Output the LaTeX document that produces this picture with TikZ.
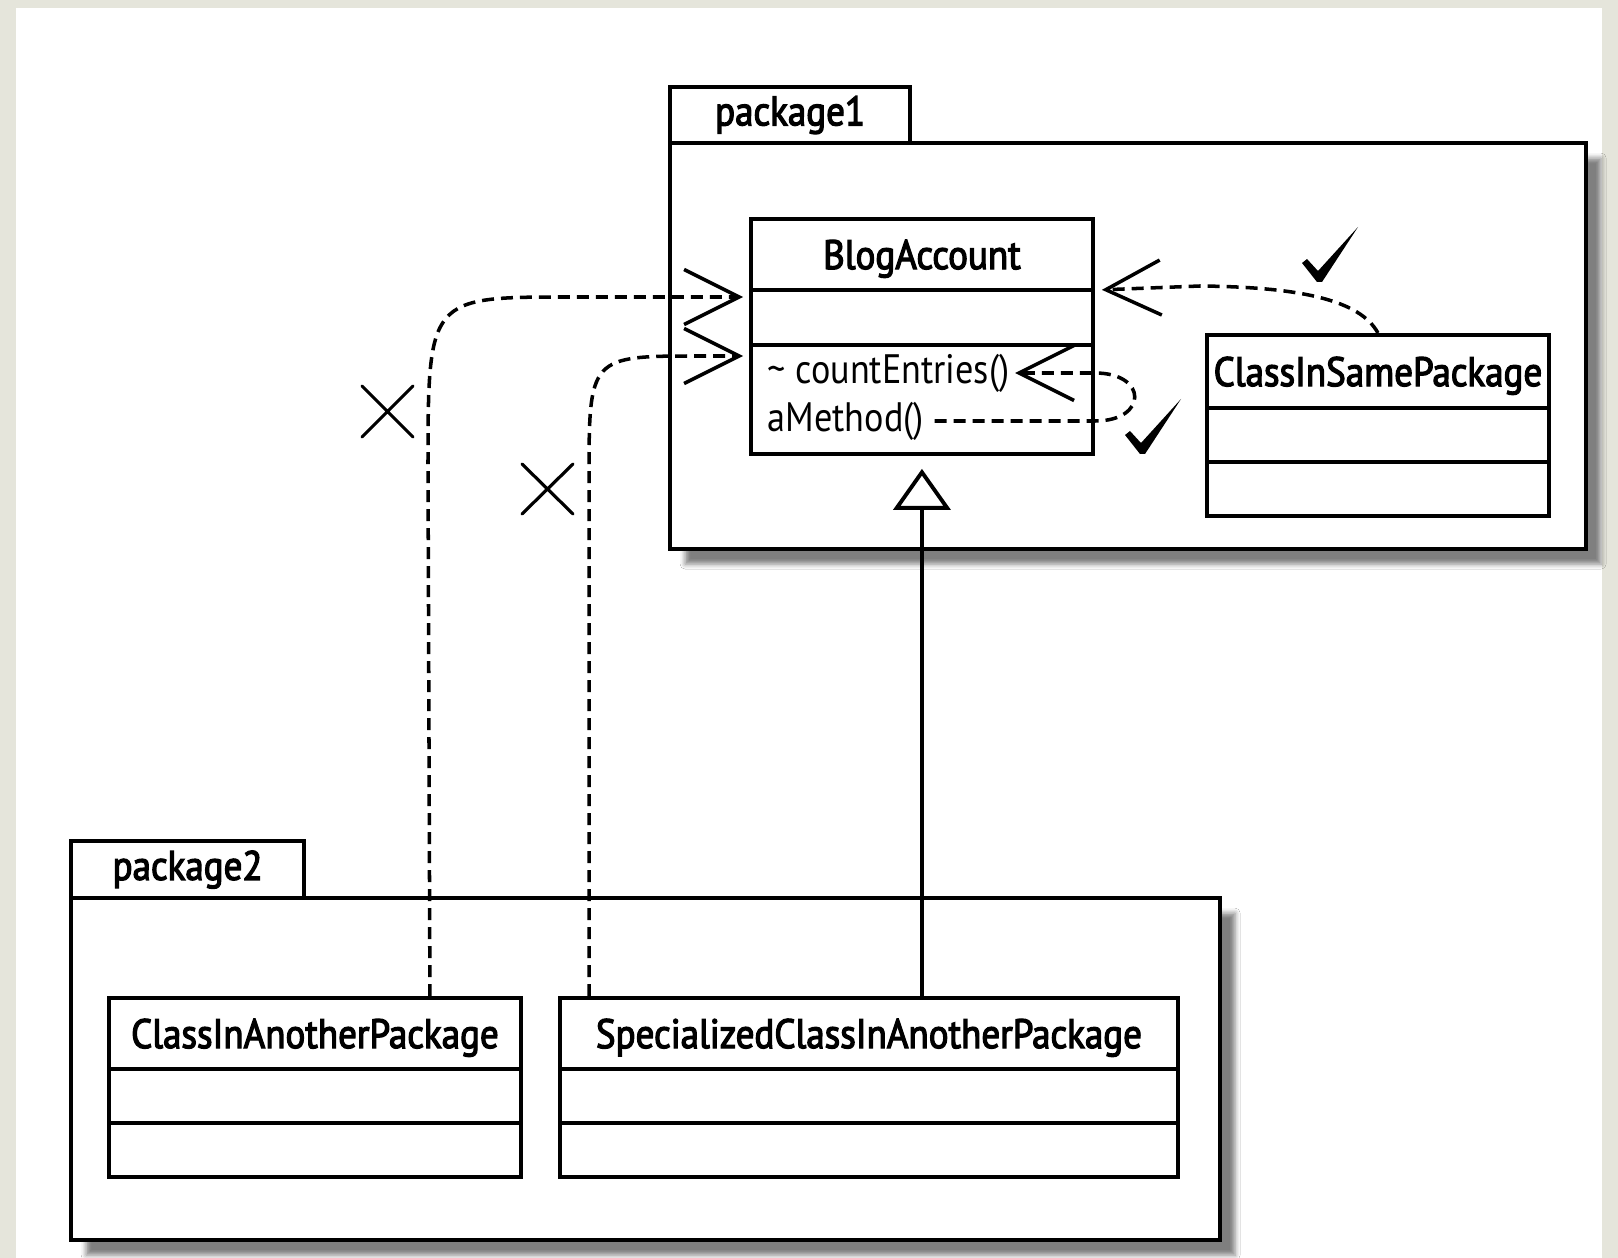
\documentclass[tikz,border=0pt]{standalone}
\usepackage{fontspec}
\setmainfont{PT Sans}[FakeStretch=0.88]
\newfontfamily\namefont{PT Sans}[FakeStretch=0.9,FakeBold=3]
\usetikzlibrary{arrows.meta,shadows.blur}

\definecolor{pagebg}{RGB}{229,229,219}

\tikzset{
  pkgtab/.style={draw, line width=1.2pt, fill=white, anchor=north west, inner sep=0pt,
    font=\namefont\fontsize{11.7}{14}\selectfont},
  pkgbody/.style={draw, line width=1.2pt, fill=white, anchor=north west, inner sep=0pt,
    blur shadow={shadow xshift=1.5mm, shadow yshift=-1.5mm, shadow blur radius=0.5mm, shadow opacity=50}},
  clspart/.style={draw, line width=1.1pt, fill=white, anchor=north west, inner sep=0pt,
    minimum width=#1, text depth=0pt, font=\namefont\fontsize{11.7}{14}\selectfont},
  optext/.style={anchor=west, inner sep=0pt, font=\fontsize{11.7}{14}\selectfont},
  dep/.style={line width=1pt, dash pattern=on 1.2mm off 0.7mm,
    -{Straight Barb[length=5.5mm, width=5.5mm]}},
  inherit/.style={line width=1.1pt, shorten >=1.3mm,
    -{Triangle[open, length=4.1mm, width=5.7mm, fill=white]}},
  nomark/.style={line width=0.9pt, line cap=round},
  okmark/.pic={\fill (-1,2) -- (-16,-17) -- (-11,-21) -- (0,-9) -- (40,-53) -- (4,2) -- cycle;}
}

\begin{document}
\begin{tikzpicture}[x=0.1mm, y=-0.1mm]
  \useasboundingbox (0,0) rectangle (1618,1258);
  \fill[pagebg] (0,0) rectangle (1618,1258);
  \fill[white] (16,8) rectangle (1602,1258);

  % package1
  \node[pkgtab, minimum width=24mm, minimum height=5.6mm] (pkgOneTab) at (668,85) {package1};
  \node[pkgbody, minimum width=91.6mm, minimum height=40.6mm] (pkgOne) at (668,141) {};

  \node[clspart=34.2mm, minimum height=7.1mm] (blogName) at (749,217) {BlogAccount};
  \node[clspart=34.2mm, minimum height=5.5mm] (blogAttr) at (749,288) {};
  \node[clspart=34.2mm, minimum height=10.9mm] (blogOps) at (749,343) {};
  \node[optext] (cntOp) at (767,373) {\textasciitilde\ countEntries()};
  \node[optext] (aMethodOp) at (767,421) {aMethod()};

  \node[clspart=34.2mm, minimum height=7.3mm] (sameName) at (1205,333) {ClassInSamePackage};

  % package2
  \node[pkgtab, minimum width=23.3mm, minimum height=5.7mm] (pkgTwoTab) at (69,839) {package2};
  \node[pkgbody, minimum width=114.9mm, minimum height=34.2mm] (pkgTwo) at (69,896) {};

  \node[clspart=41.2mm, minimum height=7.1mm] (anotherName) at (107,996) {ClassInAnotherPackage};
  \node[clspart=61.8mm, minimum height=7.1mm] (specName) at (558,996) {SpecializedClassInAnotherPackage};

  % empty compartments
  \foreach \nm/\x/\y/\w in {same/1205/406/34.2mm, another/107/1067/41.2mm, spec/558/1067/61.8mm}{
    \node[clspart=\w, minimum height=5.4mm] (\nm Attr) at (\x,\y) {};
    \node[clspart=\w, minimum height=5.4mm] (\nm Ops) at (\x,\y+54) {};}

  % dependencies
  \draw[dep] ([xshift=11.5mm]anotherName.north) -- (428,470) .. controls (428,297) .. (570,297)
    -- ([xshift=-0.6mm, yshift=-0.9mm]blogAttr.north west);
  \draw[dep] ([xshift=3.1mm]specName.north west) -- (589,480) .. controls (589,356) .. (700,356)
    -- ([xshift=-0.6mm, yshift=-1.3mm]blogOps.north west);
  \draw[dep] (sameName.north) .. controls (1360,300) and (1300,287) .. (1200,286)
    -- ([xshift=0.7mm, yshift=0.2mm]blogName.south east);
  \draw[dep] ([xshift=1mm]aMethodOp.east) -- (1095,421) .. controls (1148,421) and (1148,373) .. (1095,373)
    -- ([xshift=0.5mm]cntOp.east);

  % generalization
  \draw[inherit] (specName.north -| blogOps.south) -- (blogOps.south);

  % marks
  \draw[nomark] (362,386) -- (413,437) (362,437) -- (413,386);
  \draw[nomark] (522,464) -- (573,514) (522,514) -- (573,464);
  \pic at (1318,280) {okmark};
  \pic at (1141,452) {okmark};
\end{tikzpicture}
\end{document}
